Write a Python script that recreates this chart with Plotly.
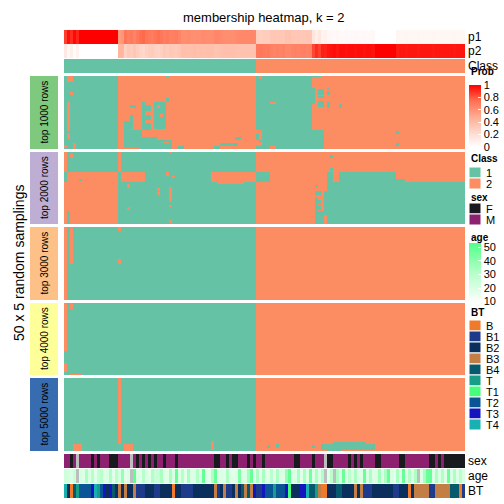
import plotly.graph_objects as go

# ---------------- data ----------------
N_COLS = 134
p1 = ([0.86, 0.96, 0.9, 0.98, 0.92] + [1.0] * 13 +
      [0.56, 0.58, 0.72, 0.68, 0.7, 0.66] +
      [0.7, 0.74, 0.76, 0.72, 0.7, 0.69, 0.72, 0.74, 0.71, 0.68, 0.7, 0.67, 0.68, 0.69, 0.66] +
      [0.62, 0.62, 0.63, 0.62, 0.61, 0.62, 0.62, 0.63, 0.62, 0.62, 0.62, 0.65, 0.65, 0.63, 0.62,
       0.62, 0.62, 0.62, 0.63, 0.64, 0.64, 0.64, 0.64, 0.65, 0.64] +
      [0.3, 0.29, 0.3, 0.31, 0.3] +
      [0.33, 0.34, 0.33, 0.34, 0.33, 0.36, 0.36, 0.34, 0.33, 0.34, 0.33, 0.33, 0.34, 0.33] +
      [0.16, 0.1, 0.15, 0.07, 0.08, 0.05] +
      [0.04, 0.03, 0.05, 0.03, 0.03, 0.04, 0.03, 0.03, 0.04, 0.03, 0.03, 0.04, 0.03, 0.03, 0.04,
       0.0, 0.0, 0.0, 0.0, 0.0, 0.0, 0.0] +
      [0.06, 0.05, 0.05, 0.06, 0.05, 0.05, 0.05, 0.06, 0.05, 0.05, 0.05, 0.05, 0.06, 0.05, 0.05,
       0.05, 0.05, 0.05, 0.05, 0.06, 0.05, 0.05, 0.05])
p2 = [round(1 - v, 2) for v in p1]
consensus_class = [1] * 64 + [2] * 70

sex = ("MMFMN" "MMMMF" "MFMMM" "FFFMM" "MMNMF" "MFMFM" "FMMFM" "MMFMM" "MMMMM" "MMMMM"
       "FFMMF" "MFFMM" "MFMFM" "MFMMM" "MMMMM" "MMFFM" "MMMFM" "MMNFF" "MMMMM" "FMFMF"
       "MMMMF" "FMMMM" "MMFFM" "MMMMM" "MMFFM" "FMFFF" "FFFF")
age = [24, 22, 20, 25, None, 21, 19, 33, 20, 31, 18, 27, 30, 19, 20, 32, 18, 30, 21, 38,
       18, 20, None, 50, 19, 18, 31, 20, 18, 32, 25, 26, 34, 19, 18, 33, 20, 49, 19, 31,
       18, 34, 20, 19, 32, 20, 49, 19, 18, 32, 48, 19, 20, 18, 33, 19, 18, 20, 44, 19,
       20, 35, 48, 19, 33, 18, 34, 19, 18, 30, 18, 33, 20, 19, 38, 50, 19, 20, 34, 18,
       33, 20, 46, 19, 33, 20, 32, None, 18, 30, None, 33, 19, 48, 20, 30, 19, 34, 20, 19,
       48, 20, 33, 19, 20, 36, 19, 33, 48, 20, 18, 34, 19, 49, 20, 32, 19, 33, None, 20,
       34, 48, 49, 19, 33, 20, 32, 19, 47, 20, 33, 19, 30, 21]
bt_levels = ["B", "B1", "B2", "B3", "B4", "T", "T1", "T2", "T3", "T4"]
bt = ["T4", "B2", "B", "B4", "T", "T2", "T2", "T2", "T2", "T3",
      "T4", "T", "T2", "T3", "B2", "T3", "B4", "B2", "B3", "B2",
      "B3", "B2", "B2", "B3", "B1", "B1", "B1", "B2", "B2", "B2",
      "B1", "B1", "B2", "B2", "B2", "B2", "B", "B2", "B2", "B1",
      "B1", "B1", "B1", "B2", "B2", "B2", "B2", "B2", "B2", "B2",
      "B3", "B1", "B2", "B3", "B1", "B1", "B2", "B3", "B2", "B4",
      "B3", "B4", "B3", "T3", "B1", "B1", "T3", "T2", "T2", "T2",
      "T", "T2", "T2", "T2", "T3", "T1", "B2", "B2", "B2", "T3",
      "T3", "T4", "B4", "B4", "T", "B3", "B", "B", "B2", "B2",
      "B2", "B4", "B4", "B2", "B2", "B2", "B2", "B3", "B2", "B3",
      "B1", "B1", "B1", "B2", "B2", "B2", "B2", "B2", "B2", "B2",
      "B1", "B1", "B2", "B2", "B2", "B", "B2", "B3", "B3", "B3",
      "B3", "B3", "B1", "B1", "B3", "B3", "B3", "B3", "B3", "B4",
      "B4", "B4", "B", "B1"]

block_names = ["top 1000 rows", "top 2000 rows", "top 3000 rows", "top 4000 rows", "top 5000 rows"]
# row groups: (number of rows, runs "class x count")
block1_groups = [(50, "1x18 2x46 1x19 2x51")]
block1_patches = [(0, 3, 1, 2, 2), (11, 12, 2, 2, 2), (18, 37, 1, 1, 2), (39, 42, 1, 1, 2),
                  (46, 49, 3, 3, 2), (47, 48, 0, 0, 2),
                  (0, 0, 34, 34, 1), (15, 17, 34, 34, 1), (18, 36, 26, 26, 1), (20, 23, 27, 28, 1),
                  (27, 29, 27, 28, 1), (32, 36, 27, 28, 1), (18, 35, 30, 33, 1), (20, 21, 31, 31, 2),
                  (26, 27, 32, 32, 2), (20, 21, 22, 23, 1), (27, 35, 22, 22, 1), (31, 36, 20, 21, 1),
                  (37, 48, 20, 25, 1), (42, 49, 25, 30, 1), (44, 49, 31, 35, 1), (45, 45, 33, 34, 2),
                  (48, 49, 38, 39, 1), (48, 49, 50, 51, 1), (46, 47, 52, 57, 1), (42, 43, 57, 58, 1),
                  (0, 1, 65, 65, 2), (37, 43, 65, 65, 2), (45, 47, 65, 65, 2), (18, 18, 69, 70, 2),
                  (37, 39, 64, 64, 2), (44, 47, 64, 64, 2), (48, 49, 69, 70, 2),
                  (0, 0, 83, 85, 1), (8, 18, 83, 83, 1), (9, 12, 85, 86, 1), (14, 14, 85, 86, 1),
                  (17, 20, 85, 86, 1), (8, 8, 88, 88, 1), (10, 12, 88, 88, 1), (18, 21, 88, 88, 1),
                  (19, 21, 92, 92, 1), (37, 49, 83, 86, 1), (38, 39, 111, 111, 1), (46, 47, 111, 111, 1)]
block2_groups = [(14, "2x1 1x17 2x1 1x45 2x70"),
                 (7, "1x1 2x17 1x1 2x8 1x7 1x15 2x15 1x5 2x19 1x2 2x2 1x19 2x23"),
                 (29, "2x18 1x46 2x20 2x3 1x47")]
block2_patches = [(1, 3, 2, 2, 2), (0, 0, 35, 35, 2), (2, 3, 89, 89, 1), (11, 12, 89, 89, 1),
                  (19, 19, 5, 5, 1), (14, 16, 34, 34, 2), (17, 17, 36, 36, 2), (21, 21, 51, 59, 2),
                  (19, 20, 111, 113, 1), (41, 49, 1, 1, 1), (22, 24, 21, 21, 2), (38, 39, 21, 21, 2),
                  (25, 26, 31, 31, 2), (28, 29, 31, 31, 2), (24, 34, 35, 35, 2), (37, 37, 35, 35, 2),
                  (47, 48, 35, 35, 2), (23, 23, 84, 84, 1), (27, 49, 84, 84, 1), (30, 31, 84, 84, 2),
                  (27, 29, 85, 85, 1), (33, 35, 85, 85, 1), (37, 39, 85, 85, 1), (41, 49, 85, 86, 1),
                  (21, 26, 87, 87, 2), (44, 49, 87, 87, 2)]
block3_groups = [(50, "2x1 1x63 2x70")]
block3_patches = [(1, 24, 2, 2, 2), (0, 2, 18, 18, 2), (22, 24, 18, 18, 2)]
block4_groups = [(50, "1x64 2x70")]
block4_patches = [(0, 32, 0, 0, 2), (0, 3, 2, 2, 2), (42, 47, 0, 0, 2), (49, 49, 2, 5, 2)]
block5_groups = [(50, "1x64 2x70")]
block5_patches = [(0, 44, 18, 18, 2), (45, 49, 3, 5, 2), (45, 49, 20, 22, 2), (43, 48, 49, 49, 2),
                  (45, 48, 86, 103, 1), (44, 44, 90, 100, 1), (49, 49, 88, 92, 1),
                  (46, 47, 68, 68, 1), (45, 47, 71, 71, 1), (46, 47, 83, 83, 1)]


def build_block(groups, patches):
    rows = []
    for count, runs in groups:
        row = []
        for tok in runs.split():
            cls, n = tok.split("x")
            row += [int(cls)] * int(n)
        for _ in range(count):
            rows.append(list(row))
    for r0, r1, c0, c1, cls in patches:
        for r in range(r0, r1 + 1):
            for c in range(c0, c1 + 1):
                rows[r][c] = cls
    return rows


blocks = [build_block(block1_groups, block1_patches), build_block(block2_groups, block2_patches),
          build_block(block3_groups, block3_patches), build_block(block4_groups, block4_patches),
          build_block(block5_groups, block5_patches)]

# ---------------- style ----------------
W = H = 504
FONT = "Liberation Sans"
C1, C2 = "#66C2A5", "#FC8D62"
SEX_COLORS = {"F": "#181A1D", "M": "#8E2070", "N": "#BEBEBE"}
BT_COLORS = ["#F07A2A", "#1E3A8A", "#0A2F5C", "#C27E45", "#075A6E",
             "#179E88", "#45FF7A", "#0A5596", "#1515C0", "#17B1B1"]
BLOCK_COLORS = ["#7FC97F", "#BEAED4", "#FDC086", "#FFFF99", "#386CB0"]
PROB_SCALE = [[0, "#FFFFFF"], [0.25, "#FFD6C9"], [0.5, "#FFA98E"], [0.75, "#FF6E50"], [1, "#FF0000"]]
AGE_SCALE = [[0, "#FFFFFF"], [0.5, "#B5FFC9"], [1, "#52FF8A"]]


def fx(x):
    return x / W


def fy(y):
    return 1 - y / H


def dom(top, bot):
    return [fy(bot), fy(top)]


def discrete_scale(colors):
    k = len(colors)
    out = []
    for i, c in enumerate(colors):
        out += [[i / k, c], [(i + 1) / k, c]]
    return out


X0, X1 = 64, 465
cols = list(range(N_COLS))
fig = go.Figure()
layout = dict(width=W, height=H, margin=dict(l=0, r=0, t=0, b=0, autoexpand=False),
              paper_bgcolor="white", plot_bgcolor="white", showlegend=False,
              font=dict(family=FONT, color="black"),
              xaxis=dict(domain=[fx(X0), fx(X1)], range=[-0.5, N_COLS - 0.5], visible=False))

bands = {
    "p": (30, 58), "cls": (59, 73),
    "b1": (76, 149), "b2": (152, 224), "b3": (227, 300), "b4": (303, 375), "b5": (378, 451),
    "sex": (454, 468), "age": (469, 483), "bt": (484, 498),
}
axis_ids = {}
for i, key in enumerate(bands):
    name = "yaxis" if i == 0 else f"yaxis{i + 1}"
    axis_ids[key] = "y" if i == 0 else f"y{i + 1}"
    layout[name] = dict(domain=dom(*bands[key]), anchor="x", visible=False,
                        autorange="reversed", fixedrange=True)

# p1 / p2
fig.add_trace(go.Heatmap(z=[p1, p2], x=cols, y=["p1", "p2"], yaxis=axis_ids["p"],
                         colorscale=PROB_SCALE, zmin=0, zmax=1, showscale=True,
                         colorbar=dict(x=fx(469), xanchor="left", y=fy(85), yanchor="top",
                                       len=62, lenmode="pixels", thickness=12, thicknessmode="pixels",
                                       xpad=0, ypad=0, outlinewidth=0, ticks="inside", ticklen=3,
                                       tickcolor="white", tickvals=[0, 0.2, 0.4, 0.6, 0.8, 1],
                                       ticktext=["0", "0.2", "0.4", "0.6", "0.8", "1"],
                                       tickfont=dict(size=11, family=FONT))))
cls_scale = [[0, C1], [0.5, C1], [0.5, C2], [1, C2]]
fig.add_trace(go.Heatmap(z=[consensus_class], x=cols, yaxis=axis_ids["cls"], colorscale=cls_scale,
                         zmin=1, zmax=2, showscale=False))
for i, b in enumerate(blocks):
    fig.add_trace(go.Heatmap(z=b, x=cols, y=list(range(len(b))), yaxis=axis_ids[f"b{i + 1}"],
                             colorscale=cls_scale, zmin=1, zmax=2, showscale=False))

sex_codes = {"F": 0, "M": 1, "N": 2}
fig.add_trace(go.Heatmap(z=[[sex_codes[s] for s in sex]], x=cols, yaxis=axis_ids["sex"],
                         colorscale=discrete_scale([SEX_COLORS["F"], SEX_COLORS["M"], SEX_COLORS["N"]]),
                         zmin=-0.5, zmax=2.5, showscale=False))
fig.add_trace(go.Heatmap(z=[[0] * N_COLS], x=cols, yaxis=axis_ids["age"],
                         colorscale=[[0, "#BEBEBE"], [1, "#BEBEBE"]], showscale=False))
fig.add_trace(go.Heatmap(z=[age], x=cols, yaxis=axis_ids["age"], colorscale=AGE_SCALE,
                         zmin=9, zmax=53, showscale=True,
                         colorbar=dict(x=fx(469), xanchor="left", y=fy(243), yanchor="top",
                                       len=60, lenmode="pixels", thickness=12, thicknessmode="pixels",
                                       xpad=0, ypad=0, outlinewidth=0, ticks="inside", ticklen=3,
                                       tickcolor="white", tickvals=[10, 20, 30, 40, 50],
                                       tickfont=dict(size=11, family=FONT))))
fig.add_trace(go.Heatmap(z=[[bt_levels.index(v) for v in bt]], x=cols, yaxis=axis_ids["bt"],
                         colorscale=discrete_scale(BT_COLORS), zmin=-0.5, zmax=9.5, showscale=False))

annotations = []
shapes = []


def text(x, y, s, size=12, xanchor="left", angle=0, bold=False):
    annotations.append(dict(x=fx(x), y=fy(y), xref="paper", yref="paper", text=f"<b>{s}</b>" if bold else s,
                            showarrow=False, xanchor=xanchor, yanchor="middle", textangle=angle,
                            font=dict(size=size, family=FONT, color="black")))


text(264, 18, "membership heatmap, k = 2", size=13, xanchor="center")
for lab, yc in [("p1", 37), ("p2", 51), ("Class", 66), ("sex", 461), ("age", 476), ("BT", 491)]:
    text(466, yc, lab, size=12)
text(19, 263, "50 x 5 random samplings", size=14, xanchor="center", angle=-90)
for i, (nm, colr) in enumerate(zip(block_names, BLOCK_COLORS)):
    t, b = bands[f"b{i + 1}"]
    shapes.append(dict(type="rect", xref="paper", yref="paper", x0=fx(30), x1=fx(58), y0=fy(b), y1=fy(t),
                       fillcolor=colr, line=dict(width=0)))
    text(44, (t + b) / 2, nm, size=10, xanchor="center", angle=-90)

# legends
text(469, 72, "Prob", size=10, bold=True)


def cat_legend(title, ytitle, ystart, labels, colors):
    text(469, ytitle, title, size=10, bold=True)
    for k, (lab, colr) in enumerate(zip(labels, colors)):
        y0 = ystart + 11 * k
        shapes.append(dict(type="rect", xref="paper", yref="paper", x0=fx(469), x1=fx(481),
                           y0=fy(y0 + 11), y1=fy(y0), fillcolor=colr, line=dict(width=1, color="white")))
        text(484, y0 + 5.5, lab, size=11)


cat_legend("Class", 158, 167, ["1", "2"], [C1, C2])
cat_legend("sex", 198, 203, ["F", "M"], [SEX_COLORS["F"], SEX_COLORS["M"]])
text(469, 237, "age", size=10, bold=True)
cat_legend("BT", 312, 320, bt_levels, BT_COLORS)

layout["annotations"] = annotations
layout["shapes"] = shapes
fig.update_layout(**layout)
fig.write_html("out.html", config={"displayModeBar": False, "staticPlot": True},
               post_script="document.body.style.margin='0px';document.body.style.overflow='hidden';")
